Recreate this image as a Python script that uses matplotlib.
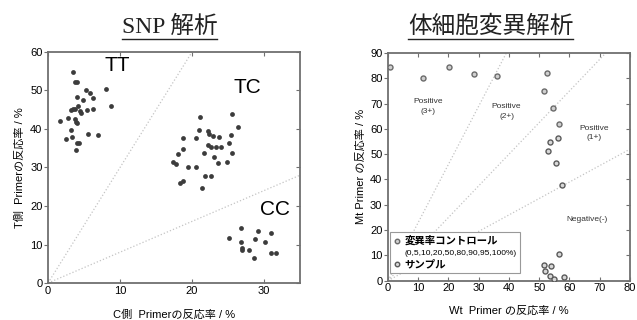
import numpy as np
import matplotlib
matplotlib.use('Agg')
import matplotlib.pyplot as plt
from matplotlib.lines import Line2D

plt.rcParams['font.family'] = ['Liberation Sans', 'Noto Sans CJK JP']

# SNP analysis data (C-side %, T-side %)
tt_x = [3.5, 3.7, 4.0, 5.3, 5.8, 6.2, 4.0, 4.8, 8.0, 8.7, 4.2, 3.2, 3.5, 3.8, 4.5, 4.6, 5.4,
        6.3, 2.8, 3.8, 3.9, 4.0, 1.6, 3.2, 2.5, 3.3, 4.0, 4.3, 5.5, 7.0, 3.9]
tt_y = [54.7, 52.1, 52.1, 50.1, 49.3, 48.1, 48.4, 47.5, 50.3, 46.0, 46.0, 44.9, 45.1, 45.1, 44.7,
        44.1, 44.9, 45.3, 42.9, 42.7, 41.9, 41.6, 42.0, 39.7, 37.4, 37.8, 36.3, 36.4, 38.6, 38.4, 34.5]
tc_x = [21.1, 25.5, 26.4, 21.0, 22.2, 22.4, 22.9, 23.7, 25.4, 18.8, 20.5, 25.2, 22.2, 22.7, 23.3,
        24.0, 18.7, 25.5, 21.6, 18.0, 23.1, 17.3, 17.8, 19.5, 20.6, 24.9, 23.6, 21.8, 22.7, 18.3,
        18.8, 21.4]
tc_y = [43.2, 43.9, 40.6, 39.7, 39.5, 38.6, 38.2, 38.0, 38.5, 37.7, 37.7, 36.4, 35.8, 35.4, 35.3,
        35.4, 34.8, 33.8, 33.7, 33.5, 32.8, 31.5, 30.9, 30.2, 30.2, 31.4, 31.2, 27.9, 27.9, 26.1,
        26.5, 24.8]
cc_x = [26.8, 29.1, 30.9, 25.2, 26.8, 28.7, 30.1, 27.0, 27.0, 27.9, 28.6, 31.0, 31.6]
cc_y = [14.4, 13.5, 13.1, 11.7, 10.7, 11.3, 10.6, 9.2, 8.6, 8.5, 6.6, 7.7, 7.7]
snp_slopes = [3.0, 0.8]

# somatic mutation analysis data (Wt %, Mt %)
ctrl_x = [0.7, 11.5, 20.2, 28.5, 36.1, 52.6, 51.7, 54.7, 56.5]
ctrl_y = [84.6, 80.0, 84.3, 81.7, 81.0, 82.1, 75.0, 68.1, 61.8]
samp_x = [56.3, 53.5, 52.8, 55.6, 57.4, 56.5, 51.5, 53.8, 52.0, 53.6, 54.9, 58.2]
samp_y = [56.3, 55.0, 51.4, 46.4, 37.8, 10.4, 6.2, 5.8, 4.0, 2.0, 0.8, 1.3]
som_slopes = [2.3, 1.25, 0.65]

fig = plt.figure(figsize=(6.37, 3.2), dpi=100)
ax1 = fig.add_axes([0.0754, 0.1156, 0.3956, 0.722])
ax2 = fig.add_axes([0.609, 0.1228, 0.380, 0.7116])

spine_c = '#707070'
line_c = '#c4c4c4'


def style(ax):
    for s in ax.spines.values():
        s.set_color(spine_c)
        s.set_linewidth(1.3)
    ax.tick_params(axis='x', direction='in', top=True, length=3, width=0.8,
                   color=spine_c, labelsize=8, pad=2)
    ax.tick_params(axis='y', direction='out', length=3, width=0.8,
                   color=spine_c, labelsize=8, pad=1)
    sec = ax.secondary_yaxis('right')
    sec.tick_params(direction='in', length=3, width=0.8, color=spine_c, labelright=False)
    sec.spines['right'].set_visible(False)
    sec.set_yticks(ax.get_yticks())


# left panel
ax1.set_xlim(0, 35)
ax1.set_ylim(0, 60)
xs = np.array([0, 40])
for k in snp_slopes:
    ax1.plot(xs, k * xs, color=line_c, lw=0.9, ls=':')
for xx, yy in [(tt_x, tt_y), (tc_x, tc_y), (cc_x, cc_y)]:
    ax1.scatter(xx, yy, s=12, color='#3c3c3c', zorder=3, linewidths=0)
ax1.set_xticks([0, 10, 20, 30])
ax1.set_yticks(range(0, 61, 10))
style(ax1)
ax1.text(9.6, 56.5, 'TT', fontsize=15, ha='center', va='center')
ax1.text(27.7, 50.8, 'TC', fontsize=15, ha='center', va='center')
ax1.text(31.5, 19, 'CC', fontsize=15, ha='center', va='center')
ax1.set_xlabel('C側  Primerの反応率 / %', fontsize=8, labelpad=10)
ax1.set_ylabel('T側  Primerの反応率 / %', fontsize=8, labelpad=4)

# right panel
ax2.set_xlim(0, 80)
ax2.set_ylim(0, 90)
xs = np.array([0, 100])
for k in som_slopes:
    ax2.plot(xs, k * xs, color=line_c, lw=0.9, ls=':')
h1 = ax2.scatter(ctrl_x, ctrl_y, s=13, facecolor='#d0d0d0', edgecolor='#6a6a6a',
                 linewidths=1.0, zorder=3)
h2 = ax2.scatter(samp_x, samp_y, s=13, facecolor='#d8d8d8', edgecolor='#5a5a5a',
                 linewidths=1.0, zorder=3)
ax2.set_xticks(range(0, 81, 10))
ax2.set_yticks(range(0, 91, 10))
style(ax2)
tk = dict(fontsize=6, ha='center', va='center', color='#333333', linespacing=1.5)
ax2.text(13.3, 68.8, 'Positive\n(3+)', **tk)
ax2.text(39.2, 66.8, 'Positive\n(2+)', **tk)
ax2.text(68.2, 58.3, 'Positive\n(1+)', **tk)
ax2.text(65.9, 24.0, 'Negative(-)', **tk)
ax2.set_xlabel('Wt  Primer の反応率 / %', fontsize=8, labelpad=9)
ax2.set_ylabel('Mt Primer の反応率 / %', fontsize=8, labelpad=3)

blank = Line2D([], [], linestyle='none')
leg = ax2.legend([h1, blank, h2],
                 ['変異率コントロール', '(0,5,10,20,50,80,90,95,100%)', 'サンプル'],
                 loc='lower left', bbox_to_anchor=(0.01, 0.035), borderaxespad=0,
                 fontsize=7.5, fancybox=False, framealpha=1, edgecolor='#999999',
                 handlelength=0.6, handletextpad=0.4, borderpad=0.35, labelspacing=0.2,
                 markerscale=0.9)
leg.get_frame().set_linewidth(0.8)
for i, t in enumerate(leg.get_texts()):
    if i == 1:
        t.set_fontsize(6)
    else:
        t.set_fontweight('bold')

# titles with underline
titles = [('SNP 解析', 0.266), ('体細胞変異解析', 0.77)]
fig.canvas.draw()
rend = fig.canvas.get_renderer()
for txt, xc in titles:
    t = fig.text(xc, 0.915, txt, fontsize=17, ha='center', va='center',
                 family=['Liberation Serif', 'Noto Sans CJK JP'], color='#222222')
    bb = t.get_window_extent(renderer=rend)
    yline = (bb.y0 - 1) / fig.bbox.height
    fig.add_artist(Line2D([bb.x0 / fig.bbox.width, bb.x1 / fig.bbox.width], [yline, yline],
                          color='#222222', lw=1.0))

fig.savefig('out.png', dpi=100)
